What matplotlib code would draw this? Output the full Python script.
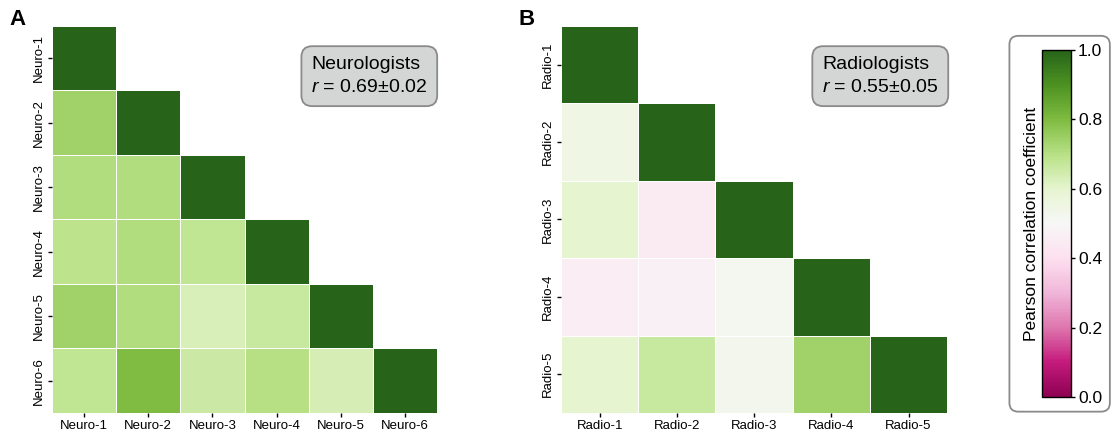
import numpy as np
import matplotlib
matplotlib.use("Agg")
import matplotlib.pyplot as plt
from matplotlib.patches import FancyBboxPatch
import seaborn as sns

plt.rcParams['font.family'] = ['Liberation Sans', 'DejaVu Sans']
plt.rcParams['mathtext.fontset'] = 'custom'
plt.rcParams['mathtext.it'] = 'Liberation Sans:italic'
plt.rcParams['mathtext.rm'] = 'Liberation Sans'

neuro_labels = ["Neuro-1", "Neuro-2", "Neuro-3", "Neuro-4", "Neuro-5", "Neuro-6"]
# lower triangle, row by row (row i holds correlations with raters 1..i-1)
neuro_lower = [
    [0.74],
    [0.71, 0.71],
    [0.69, 0.71, 0.68],
    [0.74, 0.71, 0.63, 0.665],
    [0.68, 0.80, 0.66, 0.70, 0.635],
]

radio_labels = ["Radio-1", "Radio-2", "Radio-3", "Radio-4", "Radio-5"]
radio_lower = [
    [0.55],
    [0.60, 0.448],
    [0.455, 0.47, 0.52],
    [0.60, 0.665, 0.53, 0.74],
]

neuro_title = "Neurologists\n$r$ = 0.69±0.02"
radio_title = "Radiologists\n$r$ = 0.55±0.05"


def build_matrix(lower):
    n = len(lower) + 1
    m = np.eye(n)
    for i, row in enumerate(lower):
        for j, v in enumerate(row):
            m[i + 1, j] = v
            m[j, i + 1] = v
    return m


def draw_panel(ax, lower, labels, text, letter, fig, box_x):
    m = build_matrix(lower)
    mask = np.triu(np.ones_like(m, dtype=bool), k=1)
    sns.heatmap(m, mask=mask, cmap="PiYG", vmin=0, vmax=1, ax=ax, cbar=False,
                linewidths=0.7, linecolor="white", square=False,
                xticklabels=labels, yticklabels=labels)
    ax.tick_params(axis="both", length=3, width=1, labelsize=9.5, pad=2)
    ax.set_yticklabels(labels, rotation=90, va="center")
    ax.set_xticklabels(labels, rotation=0)
    ax.text(box_x, 0.87, text, transform=ax.transAxes, fontsize=14,
            ha="left", va="center", linespacing=1.5,
            bbox=dict(boxstyle="round,pad=0.5,rounding_size=0.55",
                      facecolor="#d4d6d5", edgecolor="#8a8a8a", linewidth=1.3))
    pos = ax.get_position()
    fig.text(pos.x0 - 0.038, 0.955, letter, fontsize=16, fontweight="bold",
             ha="left", va="center")


fig = plt.figure(figsize=(11.16, 4.37), dpi=100)

ax_a = fig.add_axes([0.0466, 0.0549, 0.345, 0.886])
ax_b = fig.add_axes([0.5027, 0.0549, 0.346, 0.886])

draw_panel(ax_a, neuro_lower, neuro_labels, neuro_title, "A", fig, 0.673)
draw_panel(ax_b, radio_lower, radio_labels, radio_title, "B", fig, 0.676)

# colorbar inside a rounded frame
frame = FancyBboxPatch((0.9045, 0.058), 0.09, 0.86,
                       boxstyle="round,pad=0,rounding_size=0.008",
                       transform=fig.transFigure, facecolor="white",
                       edgecolor="#8a8a8a", linewidth=1.3, mutation_aspect=2.5,
                       zorder=-1)
fig.patches.append(frame)

cax = fig.add_axes([0.9337, 0.0915, 0.026, 0.794])
sm = plt.cm.ScalarMappable(cmap="PiYG", norm=plt.Normalize(0, 1))
cb = fig.colorbar(sm, cax=cax, ticks=[0.0, 0.2, 0.4, 0.6, 0.8, 1.0])
cb.outline.set_linewidth(1)
cb.ax.tick_params(labelsize=12.5, length=3, width=1, pad=2)
cb.ax.set_yticklabels(["0.0", "0.2", "0.4", "0.6", "0.8", "1.0"])
cb.set_label("Pearson correlation coefficient", fontsize=12.5, labelpad=-56)
cb.ax.yaxis.set_label_position("right")

fig.savefig("out.png", dpi=100)
